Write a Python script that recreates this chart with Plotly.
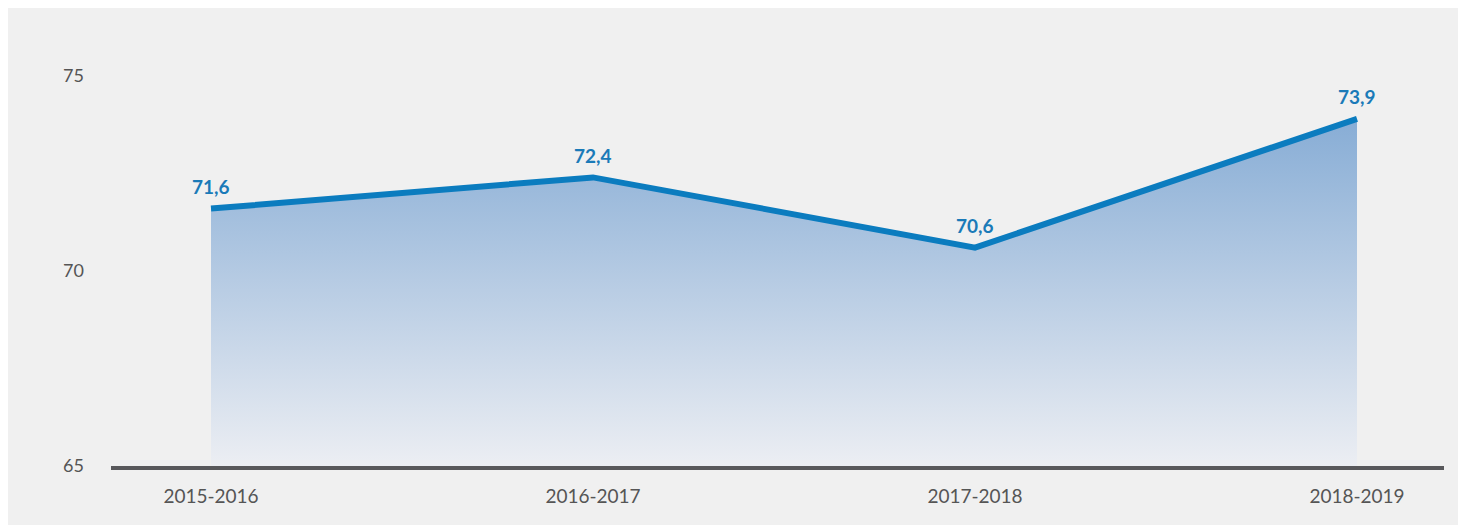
import plotly.graph_objects as go

categories = ["2015-2016", "2016-2017", "2017-2018", "2018-2019"]
values = [71.6, 72.4, 70.6, 73.9]
value_labels = ["71,6", "72,4", "70,6", "73,9"]
y_ticks = [65, 70, 75]

x_idx = list(range(len(categories)))

# figure is placed at (8, 8) in the page by the body margin
FW, FH = 1458, 517
L, T = 103, 12
PW, PH = 1333, 446
R = FW - L - PW
B = FH - T - PH

fig = go.Figure()
fig.add_trace(go.Scatter(
    x=x_idx, y=values,
    mode="lines",
    line=dict(color="#0b7cbf", width=6),
    fill="tozeroy",
    fillgradient=dict(type="vertical", start=65, stop=74,
                      colorscale=[[0, "rgba(236,238,243,1)"], [1, "#86acd5"]]),
    hoverinfo="skip",
))

for xi, v, lab in zip(x_idx, values, value_labels):
    fig.add_annotation(x=xi, y=v, text=lab, showarrow=False, yshift=22,
                       font=dict(family="Lato", size=19, color="#1a7ab8", weight="bold"))

fig.add_shape(type="rect", xref="paper", yref="paper", layer="below",
              x0=(-1 - L) / PW, x1=(1452 - L) / PW,
              y0=-(B) / PH, y1=(PH + T) / PH,
              fillcolor="#f0f0f0", line=dict(width=0))

fig.update_layout(
    width=FW, height=FH,
    margin=dict(l=L, r=R, t=T, b=B),
    paper_bgcolor="white",
    plot_bgcolor="rgba(0,0,0,0)",
    showlegend=False,
    xaxis=dict(
        tickvals=x_idx, ticktext=categories,
        range=[-100 / 382, 3 + 87 / 382],
        showgrid=False, zeroline=False,
        showline=True, linecolor="#58585b", linewidth=4,
        ticks="", ticklabelstandoff=10,
        tickfont=dict(family="Lato", size=19, color="#555555"),
    ),
    yaxis=dict(
        range=[65, 65 + PH / 39.0],
        tickvals=y_ticks,
        showgrid=False, zeroline=False, showline=False,
        ticks="", ticklabelstandoff=26,
        tickfont=dict(family="Lato", size=18, color="#555555"),
    ),
)

fig.write_html("out.html")
